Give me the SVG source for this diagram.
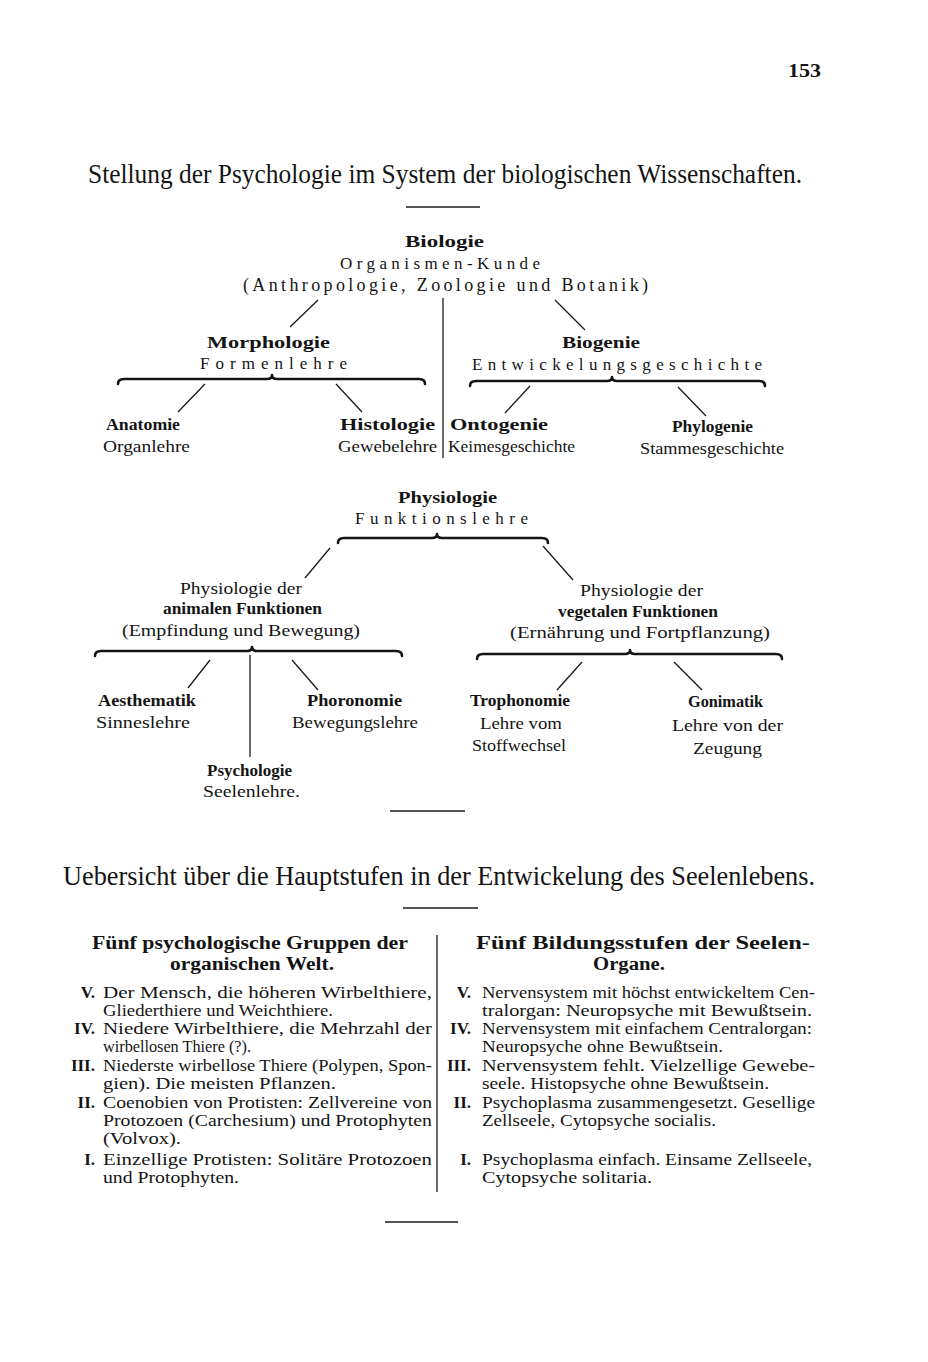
<svg xmlns="http://www.w3.org/2000/svg" width="928" height="1362" viewBox="0 0 928 1362">
<style>
text{font-family:"Liberation Serif","DejaVu Serif",serif;fill:#141414}
.t{font-size:28px}
.b{font-size:17px;font-weight:700}
.r{font-size:17px}
.h{font-size:18px;font-weight:700}
.n{font-size:17px;font-weight:700}
.pg{font-size:18px;font-weight:700}
.ln{stroke:#1a1a1a;stroke-width:1.3;fill:none}
.rule{stroke:#1a1a1a;stroke-width:1.6}
.br{stroke:#141414;stroke-width:2.6;fill:none;stroke-linecap:round;stroke-linejoin:round}
</style>
<rect width="928" height="1362" fill="#ffffff"/>
<text class="pg" x="788" y="77" textLength="33" lengthAdjust="spacingAndGlyphs">153</text>
<text class="t" x="88" y="183" textLength="714" lengthAdjust="spacingAndGlyphs">Stellung der Psychologie im System der biologischen Wissenschaften.</text>
<line class="rule" x1="406" y1="207" x2="480" y2="207"/>

<g id="connectors">
<line class="ln" x1="318" y1="300" x2="290" y2="327"/>
<line class="ln" x1="555" y1="300" x2="585" y2="330"/>
<line class="ln" x1="443" y1="298" x2="443" y2="458"/>
<path class="br" d="M118,384 Q118,379 124,379 L267,379 Q272,379 272,375 Q272,379 277,379 L419,379 Q425,379 425,384"/>
<path class="br" d="M470,386 Q470,381 476,381 L607,381 Q612,381 612,377 Q612,381 617,381 L759,381 Q765,381 765,386"/>
<line class="ln" x1="205" y1="384" x2="178" y2="412"/>
<line class="ln" x1="336" y1="384" x2="362" y2="412"/>
<line class="ln" x1="530" y1="386" x2="505" y2="413"/>
<line class="ln" x1="678" y1="387" x2="706" y2="416"/>
<path class="br" d="M338,543 Q338,538 344,538 L432,538 Q437,538 437,534 Q437,538 442,538 L542,538 Q548,538 548,543"/>
<line class="ln" x1="330" y1="548" x2="305" y2="578"/>
<line class="ln" x1="543" y1="546" x2="573" y2="580"/>
<path class="br" d="M95,656 Q95,651 101,651 L247,651 Q252,651 252,647 Q252,651 257,651 L396,651 Q402,651 402,656"/>
<path class="br" d="M477,659 Q477,654 483,654 L625,654 Q630,654 630,650 Q630,654 635,654 L776,654 Q782,654 782,659"/>
<line class="ln" x1="210" y1="660" x2="188" y2="688"/>
<line class="ln" x1="250" y1="655" x2="250" y2="757"/>
<line class="ln" x1="292" y1="660" x2="318" y2="690"/>
<line class="ln" x1="582" y1="662" x2="557" y2="690"/>
<line class="ln" x1="674" y1="662" x2="702" y2="690"/>
</g>

<g id="biologie">
<text class="b" x="405" y="247" textLength="79" lengthAdjust="spacingAndGlyphs">Biologie</text>
<text class="r" x="340" y="269" textLength="200" lengthAdjust="spacing">Organismen-Kunde</text>
<text class="r" x="243" y="291" textLength="405" lengthAdjust="spacing" style="font-size:18px">(Anthropologie, Zoologie und Botanik)</text>
</g>
<g id="morphologie">
<text class="b" x="207" y="348" textLength="123" lengthAdjust="spacingAndGlyphs">Morphologie</text>
<text class="r" x="200" y="369" textLength="147" lengthAdjust="spacing">Formenlehre</text>
</g>
<g id="biogenie">
<text class="b" x="562" y="348" textLength="78" lengthAdjust="spacingAndGlyphs">Biogenie</text>
<text class="r" x="472" y="370" textLength="290" lengthAdjust="spacing">Entwickelungsgeschichte</text>
</g>
<g id="anatomie">
<text class="b" x="106" y="430" textLength="74" lengthAdjust="spacingAndGlyphs">Anatomie</text>
<text class="r" x="103" y="452" textLength="87" lengthAdjust="spacingAndGlyphs">Organlehre</text>
</g>
<g id="histologie">
<text class="b" x="340" y="430" textLength="95" lengthAdjust="spacingAndGlyphs">Histologie</text>
<text class="r" x="338" y="452" textLength="99" lengthAdjust="spacingAndGlyphs">Gewebelehre</text>
</g>
<g id="ontogenie">
<text class="b" x="450" y="430" textLength="98" lengthAdjust="spacingAndGlyphs">Ontogenie</text>
<text class="r" x="448" y="452" textLength="127" lengthAdjust="spacingAndGlyphs">Keimesgeschichte</text>
</g>
<g id="phylogenie">
<text class="b" x="672" y="432" textLength="81" lengthAdjust="spacingAndGlyphs">Phylogenie</text>
<text class="r" x="640" y="454" textLength="144" lengthAdjust="spacingAndGlyphs">Stammesgeschichte</text>
</g>
<g id="physiologie">
<text class="b" x="398" y="503" textLength="99" lengthAdjust="spacingAndGlyphs">Physiologie</text>
<text class="r" x="355" y="524" textLength="173" lengthAdjust="spacing">Funktionslehre</text>
</g>
<g id="animal">
<text class="r" x="180" y="594" textLength="122" lengthAdjust="spacingAndGlyphs">Physiologie der</text>
<text class="b" x="163" y="614" textLength="159" lengthAdjust="spacingAndGlyphs">animalen Funktionen</text>
<text class="r" x="122" y="636" textLength="238" lengthAdjust="spacingAndGlyphs">(Empfindung und Bewegung)</text>
</g>
<g id="vegetal">
<text class="r" x="580" y="596" textLength="123" lengthAdjust="spacingAndGlyphs">Physiologie der</text>
<text class="b" x="558" y="617" textLength="160" lengthAdjust="spacingAndGlyphs">vegetalen Funktionen</text>
<text class="r" x="510" y="638" textLength="260" lengthAdjust="spacingAndGlyphs">(Ernährung und Fortpflanzung)</text>
</g>
<g id="aesthematik">
<text class="b" x="98" y="706" textLength="98" lengthAdjust="spacingAndGlyphs">Aesthematik</text>
<text class="r" x="96" y="728" textLength="94" lengthAdjust="spacingAndGlyphs">Sinneslehre</text>
</g>
<g id="phoronomie">
<text class="b" x="307" y="706" textLength="95" lengthAdjust="spacingAndGlyphs">Phoronomie</text>
<text class="r" x="292" y="728" textLength="126" lengthAdjust="spacingAndGlyphs">Bewegungslehre</text>
</g>
<g id="psychologie">
<text class="b" x="207" y="776" textLength="85" lengthAdjust="spacingAndGlyphs">Psychologie</text>
<text class="r" x="203" y="797" textLength="97" lengthAdjust="spacingAndGlyphs">Seelenlehre.</text>
</g>
<g id="trophonomie">
<text class="b" x="470" y="706" textLength="100" lengthAdjust="spacingAndGlyphs">Trophonomie</text>
<text class="r" x="480" y="729" textLength="82" lengthAdjust="spacingAndGlyphs">Lehre vom</text>
<text class="r" x="472" y="751" textLength="94" lengthAdjust="spacingAndGlyphs">Stoffwechsel</text>
</g>
<g id="gonimatik">
<text class="b" x="688" y="707" textLength="75" lengthAdjust="spacingAndGlyphs">Gonimatik</text>
<text class="r" x="672" y="731" textLength="111" lengthAdjust="spacingAndGlyphs">Lehre von der</text>
<text class="r" x="693" y="754" textLength="69" lengthAdjust="spacingAndGlyphs">Zeugung</text>
</g>

<line class="rule" x1="390" y1="811" x2="465" y2="811"/>
<text class="t" x="63" y="885" textLength="752" lengthAdjust="spacingAndGlyphs">Uebersicht über die Hauptstufen in der Entwickelung des Seelenlebens.</text>
<line class="rule" x1="403" y1="908" x2="478" y2="908"/>

<line class="ln" x1="437" y1="935" x2="437" y2="1192"/>

<g id="gruppen">
<text class="h" x="92" y="949" textLength="316" lengthAdjust="spacingAndGlyphs">Fünf psychologische Gruppen der</text>
<text class="h" x="170" y="970" textLength="164" lengthAdjust="spacingAndGlyphs">organischen Welt.</text>
<text class="n" x="95" y="998" text-anchor="end">V.</text>
<text class="r" x="103" y="998" textLength="329" lengthAdjust="spacingAndGlyphs">Der Mensch, die höheren Wirbelthiere,</text>
<text class="r" x="103" y="1016" textLength="230" lengthAdjust="spacingAndGlyphs">Gliederthiere und Weichthiere.</text>
<text class="n" x="95" y="1034" text-anchor="end">IV.</text>
<text class="r" x="103" y="1034" textLength="329" lengthAdjust="spacingAndGlyphs">Niedere Wirbelthiere, die Mehrzahl der</text>
<text class="r" x="103" y="1052" textLength="148" lengthAdjust="spacingAndGlyphs">wirbellosen Thiere (?).</text>
<text class="n" x="95" y="1071" text-anchor="end">III.</text>
<text class="r" x="103" y="1071" textLength="329" lengthAdjust="spacingAndGlyphs">Niederste wirbellose Thiere (Polypen, Spon-</text>
<text class="r" x="103" y="1089" textLength="233" lengthAdjust="spacingAndGlyphs">gien).  Die meisten Pflanzen.</text>
<text class="n" x="95" y="1108" text-anchor="end">II.</text>
<text class="r" x="103" y="1108" textLength="329" lengthAdjust="spacingAndGlyphs">Coenobien von Protisten: Zellvereine von</text>
<text class="r" x="103" y="1126" textLength="329" lengthAdjust="spacingAndGlyphs">Protozoen (Carchesium) und Protophyten</text>
<text class="r" x="103" y="1144" textLength="78" lengthAdjust="spacingAndGlyphs">(Volvox).</text>
<text class="n" x="95" y="1165" text-anchor="end">I.</text>
<text class="r" x="103" y="1165" textLength="329" lengthAdjust="spacingAndGlyphs">Einzellige Protisten: Solitäre Protozoen</text>
<text class="r" x="103" y="1183" textLength="136" lengthAdjust="spacingAndGlyphs">und Protophyten.</text>
</g>

<g id="bildungsstufen">
<text class="h" x="476" y="949" textLength="334" lengthAdjust="spacingAndGlyphs">Fünf Bildungsstufen der Seelen-</text>
<text class="h" x="593" y="970" textLength="72" lengthAdjust="spacingAndGlyphs">Organe.</text>
<text class="n" x="471" y="998" text-anchor="end">V.</text>
<text class="r" x="482" y="998" textLength="333" lengthAdjust="spacingAndGlyphs">Nervensystem mit höchst entwickeltem Cen-</text>
<text class="r" x="482" y="1016" textLength="330" lengthAdjust="spacingAndGlyphs">tralorgan: Neuropsyche mit Bewußtsein.</text>
<text class="n" x="471" y="1034" text-anchor="end">IV.</text>
<text class="r" x="482" y="1034" textLength="330" lengthAdjust="spacingAndGlyphs">Nervensystem mit einfachem Centralorgan:</text>
<text class="r" x="482" y="1052" textLength="241" lengthAdjust="spacingAndGlyphs">Neuropsyche ohne Bewußtsein.</text>
<text class="n" x="471" y="1071" text-anchor="end">III.</text>
<text class="r" x="482" y="1071" textLength="333" lengthAdjust="spacingAndGlyphs">Nervensystem fehlt.  Vielzellige Gewebe-</text>
<text class="r" x="482" y="1089" textLength="287" lengthAdjust="spacingAndGlyphs">seele.  Histopsyche ohne Bewußtsein.</text>
<text class="n" x="471" y="1108" text-anchor="end">II.</text>
<text class="r" x="482" y="1108" textLength="333" lengthAdjust="spacingAndGlyphs">Psychoplasma zusammengesetzt.  Gesellige</text>
<text class="r" x="482" y="1126" textLength="234" lengthAdjust="spacingAndGlyphs">Zellseele, Cytopsyche socialis.</text>
<text class="n" x="471" y="1165" text-anchor="end">I.</text>
<text class="r" x="482" y="1165" textLength="330" lengthAdjust="spacingAndGlyphs">Psychoplasma einfach.  Einsame Zellseele,</text>
<text class="r" x="482" y="1183" textLength="170" lengthAdjust="spacingAndGlyphs">Cytopsyche solitaria.</text>
</g>

<line class="rule" x1="385" y1="1222" x2="458" y2="1222"/>
</svg>
